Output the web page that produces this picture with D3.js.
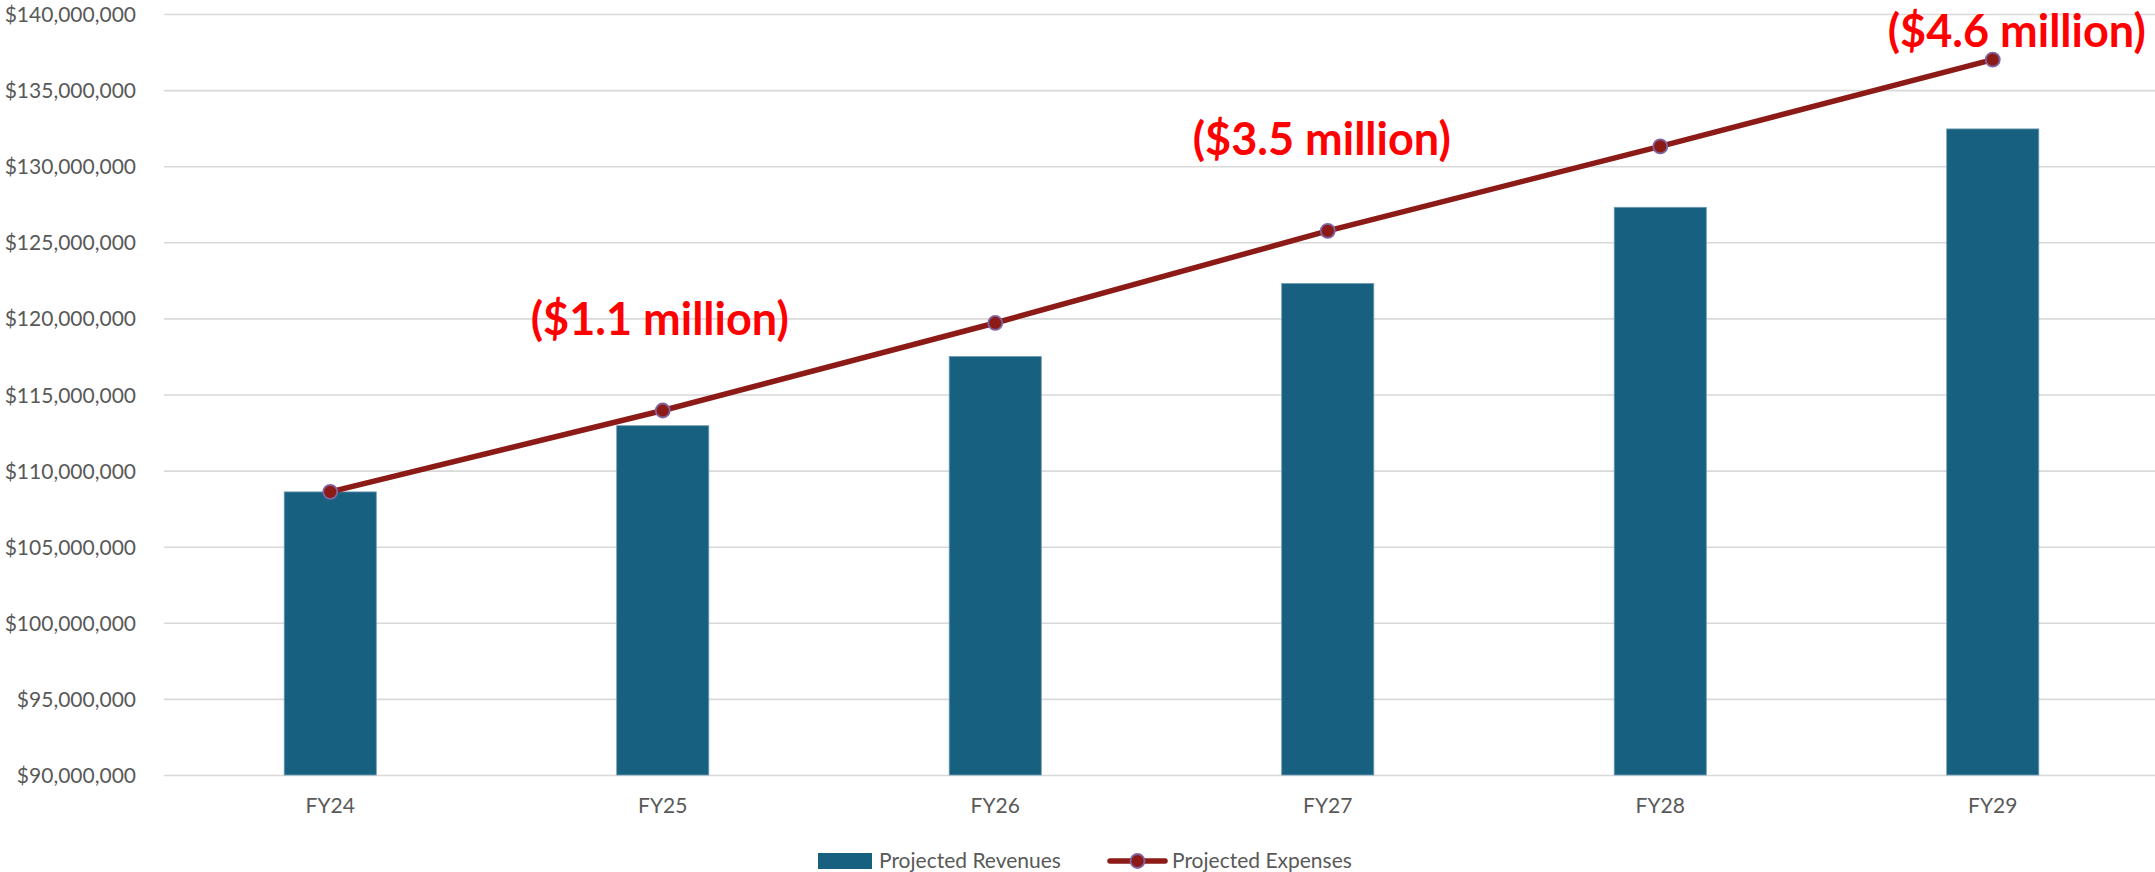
<!DOCTYPE html>
<html>
<head>
<meta charset="utf-8">
<script src="https://cdn.jsdelivr.net/npm/d3@7"></script>
<style>
  html, body { margin: 0; padding: 0; background: #ffffff; }
  svg { display: block; }
</style>
</head>
<body>
<svg id="chart" width="2155" height="872"></svg>
<script>
// ---- data ----
const categories = ["FY24", "FY25", "FY26", "FY27", "FY28", "FY29"];
const revenues = [108600000, 112950000, 117500000, 122300000, 127300000, 132450000];
const expenses = [108600000, 113950000, 119700000, 125750000, 131300000, 137000000];
const yTicks = [90000000, 95000000, 100000000, 105000000, 110000000, 115000000, 120000000, 125000000, 130000000, 135000000, 140000000];
const annotationCats = ["FY25", "FY27", "FY29"];
const annotationTexts = ["($1.1 million)", "($3.5 million)", "($4.6 million)"];
const seriesNames = ["Projected Revenues", "Projected Expenses"];

// ---- layout ----
const W = 2155, H = 872;
const plot = { left: 164, right: 2159, top: 14, bottom: 775 };
const barColor = "#186080";
const lineColor = "#8C1B17";
const markerStroke = "#8064A2";
const gridColor = "#D9D9D9";
const textColor = "#595959";
const font = "Lato, 'Open Sans', sans-serif";
const tickSize = "21px";

const svg = d3.select("#chart");

const x = d3.scaleBand()
  .domain(categories)
  .range([plot.left, plot.right])
  .paddingInner(0.723)
  .paddingOuter(0.3615);

const y = d3.scaleLinear()
  .domain([90000000, 140000000])
  .range([plot.bottom, plot.top]);

const fmt = v => "$" + d3.format(",")(v);

// gridlines + y labels
const yAxis = d3.axisLeft(y)
  .tickValues(yTicks)
  .tickSize(-(plot.right - plot.left))
  .tickPadding(28)
  .tickFormat(fmt);

const gy = svg.append("g")
  .attr("transform", `translate(${plot.left},0)`)
  .call(yAxis);
gy.select(".domain").remove();
gy.selectAll(".tick line").attr("stroke", gridColor).attr("stroke-width", 1.6);
gy.selectAll(".tick text")
  .attr("fill", textColor)
  .style("font-family", font)
  .style("font-size", tickSize)
  .attr("dy", "0.36em");

// x axis labels
const xAxis = d3.axisBottom(x).tickSize(0).tickPadding(23);
const gx = svg.append("g")
  .attr("transform", `translate(0,${plot.bottom})`)
  .call(xAxis);
gx.select(".domain").remove();
gx.selectAll(".tick text")
  .attr("fill", textColor)
  .style("font-family", font)
  .style("font-size", tickSize);

// bars
svg.append("g").selectAll("rect")
  .data(categories.map((c, i) => ({ c, v: revenues[i] })))
  .join("rect")
  .attr("x", d => x(d.c))
  .attr("y", d => y(d.v))
  .attr("width", x.bandwidth())
  .attr("height", d => y(90000000) - y(d.v))
  .attr("fill", barColor)
  .attr("stroke", "#6F9DB3")
  .attr("stroke-width", 0.8);

// line
const pts = categories.map((c, i) => ({ c, v: expenses[i] }));
const line = d3.line()
  .x(d => x(d.c) + x.bandwidth() / 2)
  .y(d => y(d.v));
svg.append("path")
  .datum(pts)
  .attr("d", line)
  .attr("fill", "none")
  .attr("stroke", lineColor)
  .attr("stroke-width", 5.5)
  .attr("stroke-linejoin", "round");
svg.append("g").selectAll("circle")
  .data(pts)
  .join("circle")
  .attr("cx", d => x(d.c) + x.bandwidth() / 2)
  .attr("cy", d => y(d.v))
  .attr("r", 7)
  .attr("fill", lineColor)
  .attr("stroke", markerStroke)
  .attr("stroke-width", 1.8);

// annotations
const annOffsets = [[-3, -75], [-6, -76], [24, -13]];
annotationCats.forEach((c, i) => {
  const idx = categories.indexOf(c);
  svg.append("text")
    .attr("x", x(c) + x.bandwidth() / 2 + annOffsets[i][0])
    .attr("y", y(expenses[idx]) + annOffsets[i][1])
    .attr("text-anchor", "middle")
    .attr("fill", "#FF0000")
    .style("font-family", font)
    .style("font-weight", "bold")
    .style("font-size", "45px")
    .text(annotationTexts[i]);
});

// legend
const lg = svg.append("g");
const ly = 861;
lg.append("rect")
  .attr("x", 818).attr("y", ly - 8)
  .attr("width", 54).attr("height", 16)
  .attr("fill", barColor);
lg.append("text")
  .attr("x", 879).attr("y", ly)
  .attr("dy", "0.35em")
  .attr("fill", textColor)
  .style("font-family", font)
  .style("font-size", tickSize)
  .text(seriesNames[0]);
lg.append("line")
  .attr("x1", 1110).attr("x2", 1165)
  .attr("y1", ly).attr("y2", ly)
  .attr("stroke", lineColor)
  .attr("stroke-width", 5.5)
  .attr("stroke-linecap", "round");
lg.append("circle")
  .attr("cx", 1137.5).attr("cy", ly)
  .attr("r", 7)
  .attr("fill", lineColor)
  .attr("stroke", markerStroke)
  .attr("stroke-width", 1.8);
lg.append("text")
  .attr("x", 1172).attr("y", ly)
  .attr("dy", "0.35em")
  .attr("fill", textColor)
  .style("font-family", font)
  .style("font-size", tickSize)
  .text(seriesNames[1]);
</script>
</body>
</html>
